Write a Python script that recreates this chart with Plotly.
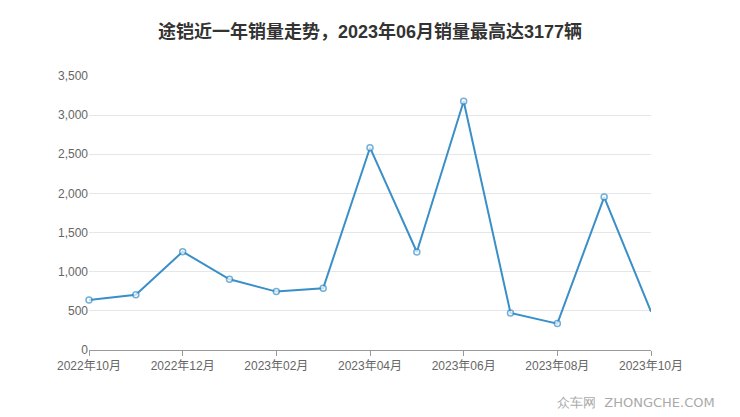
import plotly.graph_objects as go

months = ["2022年10月", "2022年11月", "2022年12月", "2023年01月", "2023年02月", "2023年03月",
          "2023年04月", "2023年05月", "2023年06月", "2023年07月", "2023年08月", "2023年09月", "2023年10月"]
sales = [640, 705, 1256, 903, 746, 788, 2584, 1252, 3177, 474, 337, 1954, 489]
y_ticks = [0, 500, 1000, 1500, 2000, 2500, 3000, 3500]

xi = list(range(len(months)))
marker_sizes = [6] * (len(months) - 1) + [0]

FONT = "Liberation Sans, Noto Sans CJK SC"

fig = go.Figure()
fig.add_trace(go.Scatter(
    x=xi, y=sales, mode="lines+markers",
    line=dict(color="#3a8fc8", width=2),
    marker=dict(size=marker_sizes, color="white", line=dict(color="#3a8fc8", width=1.5)),
    cliponaxis=False, hoverinfo="skip",
))

fig.update_layout(
    width=740, height=417,
    margin=dict(l=81, r=97, t=68, b=75),
    paper_bgcolor="white", plot_bgcolor="white",
    showlegend=False,
    title=dict(text="途铠近一年销量走势，2023年06月销量最高达3177辆",
               x=0.5 - 8 / 740, xanchor="center", y=1 - 24 / 417, yanchor="middle",
               font=dict(family=FONT, size=18, color="#333333", weight="bold")),
    font=dict(family=FONT, size=12, color="#666666"),
)
fig.update_xaxes(
    range=[0, 12], tickvals=xi[::2], ticktext=months[::2],
    showgrid=False, zeroline=False, showline=True, linecolor="#999999", linewidth=1,
    ticks="outside", ticklen=5, tickcolor="#999999",
    tickfont=dict(family=FONT, size=12, color="#666666"),
)
fig.update_yaxes(
    range=[0, 3500], tickvals=y_ticks, tickformat=",",
    showgrid=True, gridcolor="#e6e6e6", gridwidth=1, zeroline=False, showline=False,
    ticks="", tickfont=dict(family=FONT, size=12, color="#666666"),
)
fig.add_annotation(text="众车网  ZHONGCHE.COM", xref="paper", yref="paper",
                   x=(709 - 81) / 562, y=-0.19, xanchor="right", yanchor="middle", showarrow=False,
                   font=dict(family="DejaVu Sans", size=13, color="#aaaaaa"))

fig.write_html("out.html")
